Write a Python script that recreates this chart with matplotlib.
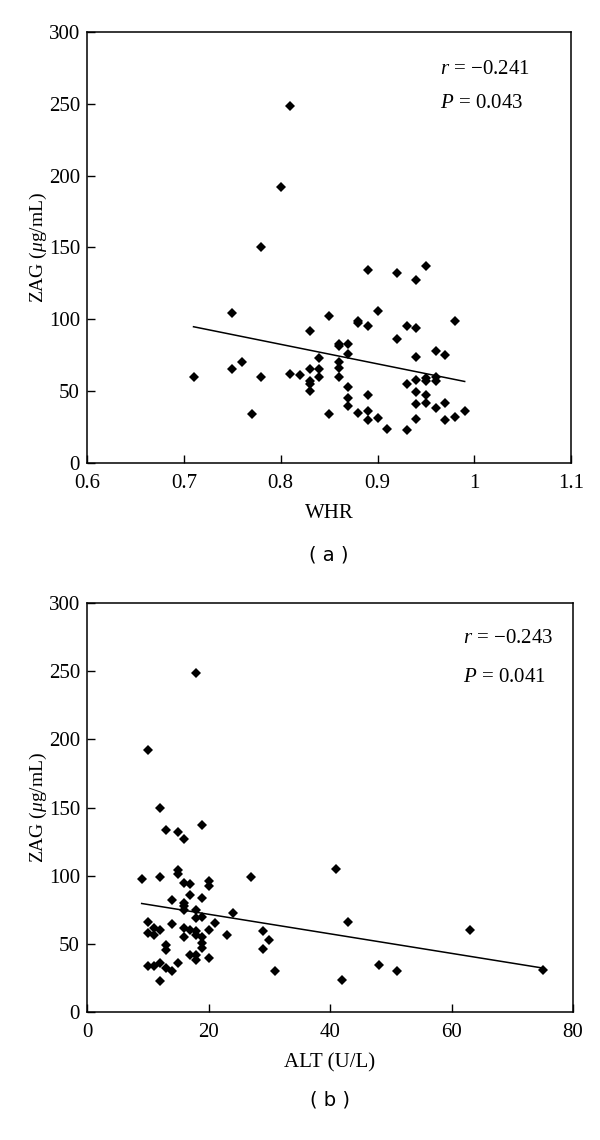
import numpy as np
import matplotlib
matplotlib.use("Agg")
import matplotlib.pyplot as plt

plt.rcParams['font.family'] = ['Liberation Serif', 'DejaVu Serif']
plt.rcParams['mathtext.fontset'] = 'custom'
plt.rcParams['mathtext.rm'] = 'Liberation Serif'
plt.rcParams['mathtext.it'] = 'Liberation Serif:italic'

# Panel (a): WHR vs ZAG
whr = [0.71, 0.75, 0.75, 0.76, 0.77, 0.78, 0.78, 0.80, 0.81, 0.81,
       0.82, 0.83, 0.83, 0.83, 0.83, 0.83, 0.84, 0.84, 0.84, 0.85,
       0.85, 0.86, 0.86, 0.86, 0.86, 0.86, 0.87, 0.87, 0.87, 0.87,
       0.87, 0.88, 0.88, 0.88, 0.89, 0.89, 0.89, 0.89, 0.89, 0.90,
       0.90, 0.91, 0.92, 0.92, 0.93, 0.93, 0.93, 0.94, 0.94, 0.94,
       0.94, 0.94, 0.94, 0.94, 0.95, 0.95, 0.95, 0.95, 0.95, 0.96,
       0.96, 0.96, 0.96, 0.97, 0.97, 0.97, 0.98, 0.98, 0.99]
zag_a = [60, 104, 65, 70, 34, 150, 60, 192, 248.5, 62,
         61, 92, 65, 57, 55, 50, 73, 65, 59.5, 102,
         34, 83, 81, 70, 66, 59.5, 83, 75.5, 53, 45,
         39.5, 99, 97.5, 35, 134, 95, 47, 36, 30, 105.5,
         31, 23.5, 132.5, 86, 95, 55, 23, 127, 94, 74,
         57.5, 49, 41, 30.5, 137, 59, 57, 47, 41.5, 78,
         60, 57, 38, 75, 42, 30, 99, 32, 36]
line_a_x = [0.71, 0.99]

# Panel (b): ALT vs ZAG
alt = [9, 10, 10, 10, 10, 11, 11, 11, 12, 12,
       12, 12, 12, 13, 13, 13, 13, 14, 14, 14,
       15, 15, 15, 15, 16, 16, 16, 16, 16, 16,
       16, 17, 17, 17, 17, 18, 18, 18, 18, 18,
       18, 18, 19, 19, 19, 19, 19, 19, 20, 20,
       20, 20, 21, 23, 24, 27, 29, 29, 30, 31,
       41, 42, 43, 48, 51, 63, 75]
zag_b = [98, 192, 66, 58, 34, 62, 57, 34, 150, 99,
         60, 36.5, 23, 134, 49.5, 45.5, 32.5, 82.5, 65, 30,
         132.5, 104, 101.5, 36.5, 127, 95, 80.5, 78, 75, 61.5,
         55.5, 94, 86, 60.5, 42, 248.5, 75, 69, 59.5, 56.5,
         42, 38, 137, 83.5, 70, 55, 51, 47, 96, 92.5,
         60, 39.5, 65.5, 57, 73, 99.5, 59.5, 46.5, 53, 30,
         105, 23.5, 66, 35, 30.5, 60, 31]
line_b_x = [9, 75]

fig = plt.figure(figsize=(6, 11.4), dpi=100)
ax_a = fig.add_axes([0.145, 0.594, 0.807, 0.378])
ax_b = fig.add_axes([0.145, 0.112, 0.81, 0.359])


def draw_panel(ax, x, y, line_x, xlim, xticks, xlabel, r_text, p_text, tag, tx, ry, py):
    ax.plot(x, y, 'D', color='black', markersize=4.8, markeredgewidth=0)
    k, b = np.polyfit(x, y, 1)
    lx = np.array(line_x)
    ax.plot(lx, k * lx + b, color='black', linewidth=1.1)
    ax.set_xlim(*xlim)
    ax.set_ylim(0, 300)
    ax.set_xticks(xticks)
    ax.set_yticks([0, 50, 100, 150, 200, 250, 300])
    ax.set_xticklabels([f'{t:g}' for t in xticks])
    ax.tick_params(direction='in', length=6, width=1, labelsize=15,
                   top=False, right=False)
    ax.tick_params(axis='x', pad=8)
    ax.tick_params(axis='y', pad=5)
    for s in ax.spines.values():
        s.set_linewidth(1.1)
    ax.set_xlabel(xlabel, fontsize=15, labelpad=8)
    ax.set_ylabel(r'ZAG ($\mu$g/mL)', fontsize=14, labelpad=0)
    ax.text(tx, ry, r_text, transform=ax.transAxes, fontsize=15, va='center')
    ax.text(tx, py, p_text, transform=ax.transAxes, fontsize=15, va='center')
    ax.text(0.5, -0.215, tag, transform=ax.transAxes, fontsize=14,
            ha='center', va='center', family='DejaVu Sans')


draw_panel(ax_a, whr, zag_a, line_a_x, (0.6, 1.1), [0.6, 0.7, 0.8, 0.9, 1.0, 1.1],
           'WHR', '$r$ = \u22120.241', '$P$ = 0.043', '( a )', 0.73, 0.912, 0.833)
draw_panel(ax_b, alt, zag_b, line_b_x, (0, 80), [0, 20, 40, 60, 80],
           'ALT (U/L)', '$r$ = \u22120.243', '$P$ = 0.041', '( b )', 0.774, 0.914, 0.817)

fig.savefig('out.png', dpi=100)
